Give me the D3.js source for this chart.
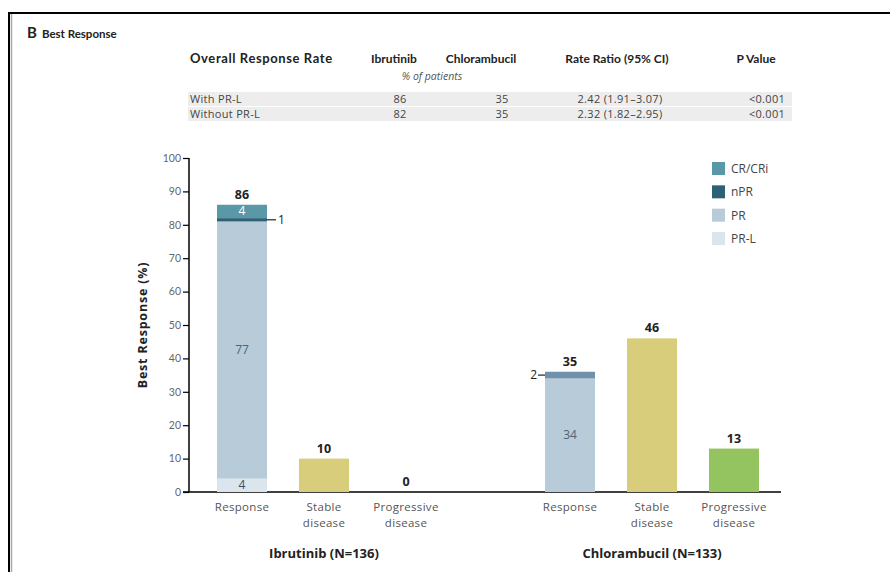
<!DOCTYPE html>
<html>
<head>
<meta charset="utf-8">
<script src="https://cdn.jsdelivr.net/npm/d3@7"></script>
<style>
  html, body { margin: 0; padding: 0; background: #fff; }
  svg { display: block; font-family: "Open Sans", Lato, sans-serif; }
</style>
</head>
<body>
<svg id="chart" width="890" height="572"></svg>
<script>
// ---------------- DATA ----------------
const tableHeaders = ["Overall Response Rate", "Ibrutinib", "Chlorambucil", "Rate Ratio (95% CI)", "P Value"];
const tableSubHeader = "% of patients";
const tableRowLabels = ["With PR-L", "Without PR-L"];
const tableIbrutinib = [86, 82];
const tableChlorambucil = [35, 35];
const tableRateRatio = ["2.42 (1.91\u20133.07)", "2.32 (1.82\u20132.95)"];
const tablePValue = ["<0.001", "<0.001"];

const groups = ["Ibrutinib (N=136)", "Chlorambucil (N=133)"];
const categories = ["Response", "Stable disease", "Progressive disease"];
const responseSeries = ["PR-L", "PR", "nPR", "CR/CRi"];
const ibrutinibResponse = [4, 77, 1, 4];      // PR-L, PR, nPR, CR/CRi
const chlorambucilResponse = [0, 34, 0, 2];   // PR-L, PR, nPR, CR/CRi
const responseTotals = [86, 35];
const stableValues = [10, 46];
const progressiveValues = [0, 13];
const yTicks = [0, 10, 20, 30, 40, 50, 60, 70, 80, 90, 100];
const legendOrder = ["CR/CRi", "nPR", "PR", "PR-L"];

// ---------------- STYLE ----------------
const seriesColor = { "PR-L": "#dbe5ed", "PR": "#b8cbd8", "nPR": "#2d6175", "CR/CRi": "#5b98a7" };
const chlSegColor = "#6f91ab";
const stableColor = "#d8cd7a";
const progColor = "#94c460";

const svg = d3.select("#chart");

// border
svg.append("line").attr("x1", 8).attr("x2", 890).attr("y1", 13).attr("y2", 13)
  .attr("stroke", "#000").attr("stroke-width", 2);
svg.append("line").attr("x1", 9).attr("x2", 9).attr("y1", 12).attr("y2", 572)
  .attr("stroke", "#000").attr("stroke-width", 2);
svg.append("line").attr("x1", 11.5).attr("x2", 11.5).attr("y1", 14).attr("y2", 572)
  .attr("stroke", "#aaa").attr("stroke-width", 1.5);

// title
const title = svg.append("text").attr("x", 27).attr("y", 38).attr("fill", "#222").attr("font-family", "Lato, sans-serif");
title.append("tspan").attr("font-weight", 700).attr("font-size", 15).text("B");
title.append("tspan").attr("dx", 5).attr("font-weight", 700).attr("font-size", 11.5).text("Best Response");

// ---------------- TABLE ----------------
const colX = [190, 394, 481, 617, 756];
const valX = [190, 400, 502, 620, 767];
const tbl = svg.append("g");
const rowY = d3.scalePoint().domain(tableRowLabels).range([103, 118]);
tableRowLabels.forEach((r, i) => {
  tbl.append("rect").attr("x", 188).attr("y", rowY(r) - 11).attr("width", 604).attr("height", 14)
    .attr("fill", "#ededed");
});
tableHeaders.forEach((h, i) => {
  tbl.append("text").attr("x", colX[i]).attr("y", 63)
    .attr("text-anchor", i === 0 ? "start" : "middle")
    .attr("font-family", "Lato, sans-serif")
    .attr("letter-spacing", i === 0 ? 0.6 : 0)
    .attr("font-weight", 700).attr("font-size", i === 0 ? 13 : 12).attr("fill", "#222").text(h);
});
tbl.append("text").attr("x", 432).attr("y", 80).attr("text-anchor", "middle")
  .attr("font-style", "italic").attr("font-size", 10.5).attr("fill", "#555").text(tableSubHeader);
tableRowLabels.forEach((r, i) => {
  const cells = [r, tableIbrutinib[i], tableChlorambucil[i], tableRateRatio[i], tablePValue[i]];
  cells.forEach((c, j) => {
    tbl.append("text").attr("x", valX[j]).attr("y", rowY(r))
      .attr("text-anchor", j === 0 ? "start" : "middle")
      .attr("font-size", 11).attr("letter-spacing", 0.3).attr("fill", "#444").text(c);
  });
});

// ---------------- CHART ----------------
const y = d3.scaleLinear().domain([0, 100]).range([492, 158]);
const slots = [];
groups.forEach((g, gi) => {
  categories.forEach(c => slots.push(g + "|" + c));
  if (gi === 0) slots.push("gap");
});
const x = d3.scalePoint().domain(slots).range([242, 734]);
const barW = 50;

// y axis
const yAxis = d3.axisLeft(y).tickValues(yTicks).tickSize(6).tickPadding(2).tickFormat(d3.format("d"));
const yg = svg.append("g").attr("transform", "translate(189,0)").call(yAxis);
yg.select(".domain").attr("stroke", "#000").attr("stroke-width", 1.5).attr("d", `M0,${y(100)}V${y(0)}`);
yg.selectAll(".tick line").attr("stroke", "#000").attr("stroke-width", 1.2);
yg.selectAll(".tick text").attr("font-size", 10.5).attr("fill", "#666").attr("font-family", "Lato, sans-serif");

// baseline
svg.append("line").attr("x1", 183).attr("x2", 781).attr("y1", y(0)).attr("y2", y(0))
  .attr("stroke", "#000").attr("stroke-width", 1.5);

// y title
svg.append("text").attr("transform", `translate(147,${(y(0) + y(100)) / 2}) rotate(-90)`)
  .attr("text-anchor", "middle").attr("font-weight", 700).attr("font-size", 12.5).attr("letter-spacing", 0.8)
  .attr("fill", "#222").text("Best Response (%)");

// response stacked bars
const responseData = [ibrutinibResponse, chlorambucilResponse];
groups.forEach((g, gi) => {
  const cx = x(g + "|" + categories[0]);
  let acc = 0;
  responseSeries.forEach((s, si) => {
    const v = responseData[gi][si];
    if (v <= 0) return;
    svg.append("rect").attr("x", cx - barW / 2).attr("width", barW)
      .attr("y", y(acc + v)).attr("height", y(acc) - y(acc + v))
      .attr("fill", gi === 1 && s === "CR/CRi" ? chlSegColor : seriesColor[s]);
    acc += v;
  });
  svg.append("text").attr("x", cx).attr("y", y(acc) - 6).attr("text-anchor", "middle")
    .attr("font-weight", 700).attr("font-size", 12.5).attr("fill", "#222").text(responseTotals[gi]);
});

const segLabels = svg.append("g").attr("font-size", 12);
// segment labels (Ibrutinib)
{
  const g = groups[0], cx = x(g + "|" + categories[0]), d = ibrutinibResponse;
  const b0 = 0, b1 = d[0], b2 = d[0] + d[1], b3 = b2 + d[2], b4 = b3 + d[3];
  segLabels.append("text").attr("x", cx).attr("y", (y(b0) + y(b1)) / 2 + 4).attr("text-anchor", "middle")
    .attr("fill", "#3d4f5c").text(d[0]);
  segLabels.append("text").attr("x", cx).attr("y", (y(b1) + y(b2)) / 2 + 4).attr("text-anchor", "middle")
    .attr("fill", "#4a6478").text(d[1]);
  segLabels.append("line").attr("x1", cx + barW / 2).attr("x2", cx + barW / 2 + 9)
    .attr("y1", (y(b2) + y(b3)) / 2).attr("y2", (y(b2) + y(b3)) / 2).attr("stroke", "#222").attr("stroke-width", 1.2);
  segLabels.append("text").attr("x", cx + barW / 2 + 11).attr("y", (y(b2) + y(b3)) / 2 + 4)
    .attr("fill", "#222").text(d[2]);
  segLabels.append("text").attr("x", cx).attr("y", (y(b3) + y(b4)) / 2 + 4).attr("text-anchor", "middle")
    .attr("fill", "#fff").text(d[3]);
}
// segment labels (Chlorambucil)
{
  const g = groups[1], cx = x(g + "|" + categories[0]), d = chlorambucilResponse;
  const b1 = d[0], b2 = d[0] + d[1], b4 = b2 + d[2] + d[3];
  segLabels.append("text").attr("x", cx).attr("y", (y(b1) + y(b2)) / 2 + 4).attr("text-anchor", "middle")
    .attr("fill", "#4a6478").text(d[1]);
  const ym = (y(b2) + y(b4)) / 2;
  segLabels.append("line").attr("x1", cx - barW / 2 - 7).attr("x2", cx - barW / 2)
    .attr("y1", ym).attr("y2", ym).attr("stroke", "#222").attr("stroke-width", 1.2);
  segLabels.append("text").attr("x", cx - barW / 2 - 8).attr("y", ym + 4).attr("text-anchor", "end")
    .attr("fill", "#222").text(d[2] + d[3]);
}

// stable & progressive bars
const simple = [
  { cat: categories[1], vals: stableValues, color: stableColor },
  { cat: categories[2], vals: progressiveValues, color: progColor }
];
simple.forEach(sc => {
  groups.forEach((g, gi) => {
    const cx = x(g + "|" + sc.cat), v = sc.vals[gi];
    svg.append("rect").attr("x", cx - barW / 2).attr("width", barW)
      .attr("y", y(v)).attr("height", y(0) - y(v)).attr("fill", sc.color);
    svg.append("text").attr("x", cx).attr("y", y(v) - 6).attr("text-anchor", "middle")
      .attr("font-weight", 700).attr("font-size", 12.5).attr("fill", "#222").text(v);
  });
});

// category labels
groups.forEach(g => {
  categories.forEach(c => {
    const words = c.split(" ");
    const t = svg.append("text").attr("x", x(g + "|" + c)).attr("y", 511).attr("text-anchor", "middle")
      .attr("font-size", 11.5).attr("letter-spacing", 0.3).attr("fill", "#555");
    words.forEach((w, i) => t.append("tspan").attr("x", x(g + "|" + c)).attr("dy", i === 0 ? 0 : 16).text(w));
  });
  svg.append("text").attr("x", x(g + "|" + categories[1])).attr("y", 558).attr("text-anchor", "middle")
    .attr("font-weight", 700).attr("font-size", 13).attr("fill", "#222").text(g);
});

// legend
const lg = svg.append("g");
const ly = d3.scalePoint().domain(legendOrder).range([168, 238]);
legendOrder.forEach(s => {
  lg.append("rect").attr("x", 712).attr("y", ly(s) - 6).attr("width", 13).attr("height", 13).attr("fill", seriesColor[s]);
  lg.append("text").attr("x", 731).attr("y", ly(s) + 5).attr("font-size", 12).attr("fill", "#444").text(s);
});
</script>
</body>
</html>
